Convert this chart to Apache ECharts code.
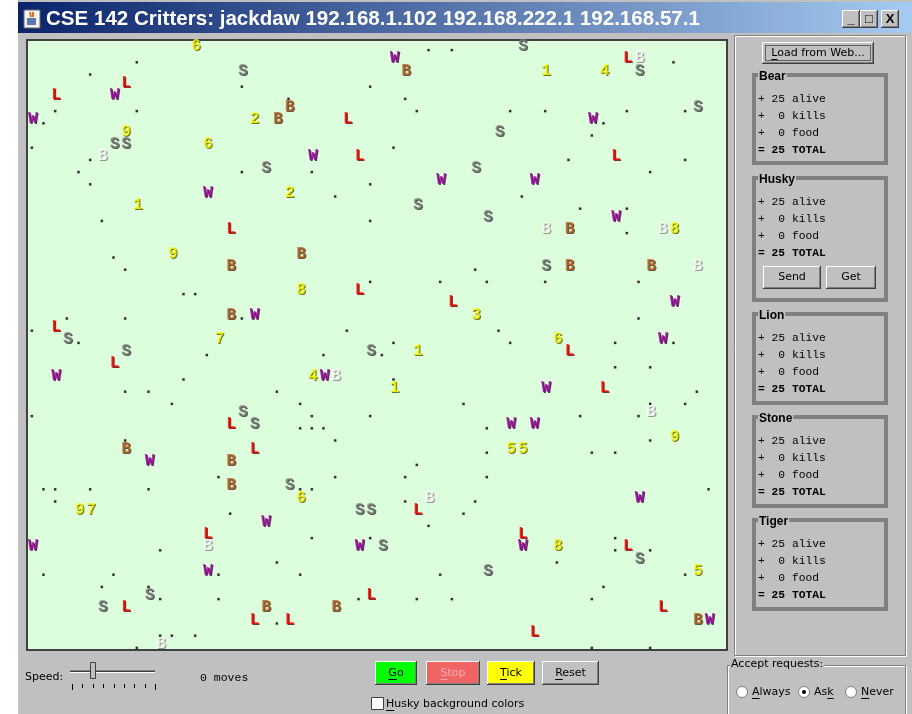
<!DOCTYPE html>
<html><head><meta charset="utf-8">
<script src="https://cdn.jsdelivr.net/npm/echarts@6/dist/echarts.min.js"></script>
<style>html,body{margin:0;padding:0;background:#fff;}#c{width:912px;height:714px;}</style>
</head><body><div id="c"></div><script>
// ---------------- data ----------------
const titleText = 'CSE 142 Critters: jackdaw 192.168.1.102 192.168.222.1 192.168.57.1';
const worldCols = 60;
const worldRows = 50;
const speciesNames = ['Bear', 'Husky', 'Lion', 'Stone', 'Tiger'];
const aliveCounts = [25, 25, 25, 25, 25];
const killCounts = [0, 0, 0, 0, 0];
const foodCounts = [0, 0, 0, 0, 0];
const totalCounts = [25, 25, 25, 25, 25];
const moveCount = 0;
const radioOptions = ['Always', 'Ask', 'Never'];
const radioMnemonic = [0, 2, 0];
const selectedRadio = 1;

const lionCells = [[8,3],[2,4],[27,6],[28,9],[51,1],[50,9],[17,15],[28,20],[2,23],[36,21],[7,26],[17,31],[19,33],[46,25],[49,28],[15,40],[29,45],[8,46],[19,47],[22,47],[33,38],[42,40],[51,41],[54,46],[43,48]];
const huskyCells = [[7,4],[0,6],[24,9],[31,1],[48,6],[35,11],[43,11],[15,12],[19,22],[50,14],[55,21],[54,24],[2,27],[25,27],[10,34],[44,28],[41,31],[43,31],[20,39],[0,41],[28,41],[15,43],[52,37],[42,41],[58,47]];
const bearCells = [[22,5],[21,6],[32,2],[23,17],[17,18],[17,22],[46,15],[46,18],[53,18],[8,33],[17,34],[17,36],[20,46],[26,46],[57,47],[6,9],[52,1],[44,15],[54,15],[57,18],[26,27],[53,30],[15,41],[11,49],[34,37]];
const bearPolar = [0,0,0,0,0,0,0,0,0,0,0,0,0,0,0,1,1,1,1,1,1,1,1,1,1];
const stoneCells = [[18,2],[7,8],[8,8],[20,10],[42,0],[52,2],[57,5],[40,7],[38,10],[33,13],[39,14],[44,18],[3,24],[8,25],[29,25],[18,30],[19,31],[22,36],[28,38],[29,38],[10,45],[6,46],[30,41],[52,42],[39,43]];
const tigerCells = [[14,0],[8,7],[19,6],[15,8],[44,2],[49,2],[22,12],[9,13],[12,17],[23,20],[55,15],[38,22],[16,24],[24,27],[45,24],[33,25],[31,28],[55,32],[41,33],[42,33],[23,37],[4,38],[5,38],[45,41],[57,43]];
const tigerDigits = ['6','9','2','6','1','4','2','1','9','8','8','3','7','4','6','1','1','9','5','5','6','9','7','8','5'];
const foodCells = [[34,0],[36,0],[9,1],[55,1],[5,2],[18,3],[29,3],[22,4],[32,4],
 [2,5],[9,5],[33,5],[41,5],[44,5],[51,5],[56,5],[1,6],[49,6],[48,7],[0,8],[31,8],
 [5,9],[46,9],[56,9],[4,10],[18,10],[24,10],[53,10],[5,11],[29,11],[26,12],[42,12],
 [47,13],[51,13],[6,14],[29,14],[51,15],[7,17],[8,18],[38,18],
 [29,19],[35,19],[39,19],[44,19],[52,19],[13,20],[14,20],
 [18,22],[3,22],[8,22],[52,22],[0,23],[27,23],[40,23],
 [4,24],[31,24],[41,24],[50,24],[55,24],[15,25],[25,25],[30,25],[50,26],[53,26],
 [13,27],[31,27],[8,28],[10,28],[21,28],[57,28],[12,29],[23,29],[37,29],[53,29],[56,29],
 [0,30],[24,30],[29,30],[47,30],[52,30],[23,31],[24,31],[25,31],[39,31],
 [8,32],[26,32],[53,32],[39,33],[48,33],[50,33],[33,34],[16,35],[26,35],[32,35],[39,35],
 [1,36],[2,36],[5,36],[10,36],[23,36],[24,36],[58,36],[2,37],[32,37],[38,37],
 [17,38],[37,38],[34,39],[24,40],[29,40],[50,40],[11,41],[50,41],[53,41],[21,42],[45,42],
 [1,43],[7,43],[16,43],[23,43],[35,43],[56,43],[6,44],[10,44],[49,44],
 [11,45],[16,45],[28,45],[33,45],[36,45],[48,45],[21,47],[11,48],[12,48],[14,48],
 [9,49],[48,49],[53,49]];

// ---------------- styles ----------------
const GUI_GRAY = '#c0c0c0';
const critterFont = 'Liberation Mono';
const guiFont = 'DejaVu Sans';

const mctx = document.createElement('canvas').getContext('2d');
function tw(t, font) { mctx.font = font; return mctx.measureText(t).width; }

const G = [];
function rect(x, y, w, h, style, z) { G.push({type:'rect', shape:{x, y, width:w, height:h}, style, z: z || 0, silent:true}); }
function line(x1, y1, x2, y2, stroke, lw, z) { G.push({type:'line', shape:{x1, y1, x2, y2}, style:{stroke, lineWidth: lw || 1}, z: z || 0, silent:true}); }
function text(x, y, t, font, fill, align, extra, z) {
  G.push({type:'text', x, y, style:Object.assign({text:t, font, fill, align: align || 'left', verticalAlign:'middle'}, extra || {}), z: z || 0, silent:true});
}
function underline(x, y, label, idx, font, color, align, z) {
  const full = tw(label, font);
  const start = align === 'center' ? x - full / 2 : x;
  const pre = tw(label.slice(0, idx), font);
  const cw = tw(label[idx], font);
  line(start + pre, y + 6.5, start + pre + cw, y + 6.5, color, 1, z);
}
function button(x, y, w, h, fill, label, ul, txtColor, font, z) {
  z = z || 5;
  rect(x, y, w, h, {fill}, z);
  line(x + 0.5, y + 0.5, x + w - 1, y + 0.5, '#ffffff', 1, z + 1);
  line(x + 0.5, y + 0.5, x + 0.5, y + h - 1, '#ffffff', 1, z + 1);
  line(x, y + h - 0.5, x + w, y + h - 0.5, '#404040', 1, z + 1);
  line(x + w - 0.5, y, x + w - 0.5, y + h, '#404040', 1, z + 1);
  line(x + 1, y + h - 1.5, x + w - 1, y + h - 1.5, '#808080', 1, z + 1);
  line(x + w - 1.5, y + 1, x + w - 1.5, y + h - 1, '#808080', 1, z + 1);
  const cx = x + w / 2, cy = y + h / 2;
  text(cx, cy, label, font, txtColor, 'center', null, z + 2);
  if (ul != null) underline(cx, cy, label, ul, font, txtColor, 'center', z + 2);
}

// window body
rect(18, 0, 894, 714, {fill: GUI_GRAY}, -20);
// title bar
rect(18, 2, 894, 31, {fill: new echarts.graphic.LinearGradient(0, 0, 1, 0, [{offset:0, color:'#0a246a'}, {offset:1, color:'#a6caf0'}])}, -10);
const titleFontBase = 'bold 100px "Liberation Sans"';
const titleSize = 100 * 654 / tw(titleText, titleFontBase);
text(46, 19, titleText, 'bold ' + titleSize.toFixed(2) + 'px "Liberation Sans"', '#ffffff', 'left', null, 2);
// icon
rect(24, 10, 16, 18, {fill:'#f4f4f4', stroke:'#6a6a6a', lineWidth:1}, 2);
rect(27, 18, 9, 7, {fill:'#5a78b4'}, 3);
line(30, 12, 31, 17, '#e07020', 2, 3);
line(33, 12, 33, 17, '#e07020', 2, 3);
// window buttons
[[842, '_'], [860, '\u25A1'], [881, 'X']].forEach(function (b) {
  button(b[0], 10, 18, 18, GUI_GRAY, b[1], null, '#000000', 'bold 13px "Liberation Sans"', 3);
});

// right panel frame
rect(734.5, 35.5, 171, 620, {fill:'none', stroke:'#808080', lineWidth:1}, -5);
rect(735.5, 36.5, 171, 620, {fill:'none', stroke:'#ffffff', lineWidth:1}, -6);
// Load from web button
button(762, 42, 112, 22, GUI_GRAY, 'Load from Web...', 0, '#000000', '11px "' + guiFont + '"', 5);
rect(765.5, 45.5, 105, 15, {fill:'none', stroke:'#000000', lineWidth:1, lineDash:[1,1]}, 8);

// species boxes
const boxTops = [73, 176, 312, 415, 518];
const boxBottoms = [165, 302, 405, 508, 611];
const monoFont = '11.3px "Liberation Mono"';
const monoBold = 'bold 11.3px "Liberation Mono"';
function pad(n) { const s = String(n); return s.length < 2 ? ' ' + s : s; }
speciesNames.forEach(function (nm, i) {
  const t = boxTops[i], b = boxBottoms[i];
  rect(754, t + 2, 132, b - t - 4, {fill:'none', stroke:'#808080', lineWidth:4}, 1);
  text(758, t + 3.5, nm, 'bold 12px "Liberation Sans"', '#000000', 'left', {backgroundColor: GUI_GRAY, padding:[0, 1, 0, 1]}, 3);
  const y0 = t + 26;
  text(758, y0, '+ ' + pad(aliveCounts[i]) + ' alive', monoFont, '#000000', 'left', null, 3);
  text(758, y0 + 17, '+ ' + pad(killCounts[i]) + ' kills', monoFont, '#000000', 'left', null, 3);
  text(758, y0 + 34, '+ ' + pad(foodCounts[i]) + ' food', monoFont, '#000000', 'left', null, 3);
  text(758, y0 + 51, '= ' + pad(totalCounts[i]) + ' TOTAL', monoBold, '#000000', 'left', null, 3);
});
button(763, 266, 58, 23, GUI_GRAY, 'Send', null, '#000000', '11px "' + guiFont + '"', 5);
button(826, 266, 50, 23, GUI_GRAY, 'Get', null, '#000000', '11px "' + guiFont + '"', 5);

// bottom controls
text(25, 677, 'Speed:', '11px "' + guiFont + '"', '#000000', 'left', null, 3);
line(70, 670.5, 155, 670.5, '#808080', 1, 3);
line(70, 671.5, 155, 671.5, '#404040', 1, 3);
line(70, 672.5, 155, 672.5, '#ffffff', 1, 3);
rect(90.5, 662.5, 5, 16, {fill: GUI_GRAY, stroke:'#404040', lineWidth:1}, 4);
for (let k = 0; k < 9; k++) {
  const tx = Math.round(72 + k * 10.4) + 0.5;
  const len = (k === 0 || k === 8) ? 6 : 4;
  line(tx, 684, tx, 684 + len, '#000000', 1, 3);
}
text(200, 678, moveCount + ' moves', '11.5px "Liberation Mono"', '#000000', 'left', null, 3);
button(375, 661, 42, 24, '#00ff00', 'Go', 0, '#000000', '11px "' + guiFont + '"', 5);
button(426, 661, 54, 24, '#f06464', 'Stop', 0, '#f8b0b0', '11px "' + guiFont + '"', 5);
button(487, 661, 48, 24, '#ffff00', 'Tick', 0, '#000000', '11px "' + guiFont + '"', 5);
button(542, 661, 57, 24, GUI_GRAY, 'Reset', 0, '#000000', '11px "' + guiFont + '"', 5);
rect(371.5, 697.5, 12, 12, {fill:'#ffffff', stroke:'#404040', lineWidth:1}, 4);
text(386, 704, 'Husky background colors', '11px "' + guiFont + '"', '#000000', 'left', null, 4);
underline(386, 704, 'Husky background colors', 0, '11px "' + guiFont + '"', '#000000', 'left', 4);
// accept requests
rect(727.5, 665.5, 178, 60, {fill:'none', stroke:'#808080', lineWidth:1}, 3);
rect(728.5, 666.5, 178, 60, {fill:'none', stroke:'#ffffff', lineWidth:1}, 2);
text(730, 664, 'Accept requests:', '11px "' + guiFont + '"', '#000000', 'left', {backgroundColor: GUI_GRAY, padding:[0, 1, 0, 1]}, 4);
const radioX = [742, 804, 851];
radioOptions.forEach(function (o, i) {
  G.push({type:'circle', shape:{cx: radioX[i], cy: 692, r: 5.5}, style:{fill:'#ffffff', stroke:'#808080', lineWidth:1}, z:4, silent:true});
  if (i === selectedRadio) G.push({type:'circle', shape:{cx: radioX[i], cy: 692, r: 2}, style:{fill:'#000000'}, z:5, silent:true});
  text(radioX[i] + 10, 692, o, '11px "' + guiFont + '"', '#000000', 'left', null, 4);
  underline(radioX[i] + 10, 692, o, radioMnemonic[i], '11px "' + guiFont + '"', '#000000', 'left', 4);
});

// ---------------- series ----------------
function glyphSeries(name, cells, chars, colors, shadow) {
  const base = {
    type:'scatter', silent:true, animation:false, symbolSize:1,
    itemStyle:{color:'rgba(0,0,0,0)'}
  };
  const mk = function (isShadow) {
    return Object.assign({}, base, {
      name: name + (isShadow ? '-shadow' : ''),
      data: cells.map(function (c, i) {
        return {value:[c[0] + 0.5, c[1] + 0.5], label:{color: isShadow ? shadow[i] : colors[i]}};
      }),
      label:{show:true, position:'inside', formatter: function (p) { return chars[p.dataIndex]; },
        fontFamily: critterFont, fontWeight:'bold', fontSize:16,
        offset: isShadow ? [1, 1] : [0, 0]},
      z: isShadow ? 5 : 6
    });
  };
  return [mk(true), mk(false)];
}
function fill(n, v) { const a = []; for (let i = 0; i < n; i++) a.push(v); return a; }

const series = [
  {type:'scatter', name:'food', silent:true, animation:false, symbol:'rect', symbolSize:[2.5,2.5], symbolOffset:[-1, 4],
   itemStyle:{color:'#000000'}, data: foodCells.map(function (c) { return [c[0] + 0.5, c[1] + 0.5]; }), z:4}
].concat(
  glyphSeries('Bear', bearCells, fill(bearCells.length, 'B'),
    bearPolar.map(function (p) { return p ? '#ffffff' : '#b5652b'; }),
    bearPolar.map(function (p) { return p ? '#808080' : '#4a2810'; })),
  glyphSeries('Husky', huskyCells, fill(huskyCells.length, 'W'), fill(huskyCells.length, '#a000a0'), fill(huskyCells.length, '#400040')),
  glyphSeries('Lion', lionCells, fill(lionCells.length, 'L'), fill(lionCells.length, '#ff0000'), fill(lionCells.length, '#600000')),
  glyphSeries('Stone', stoneCells, fill(stoneCells.length, 'S'), fill(stoneCells.length, '#808080'), fill(stoneCells.length, '#303030')),
  glyphSeries('Tiger', tigerCells, tigerDigits, fill(tigerCells.length, '#ffff00'), fill(tigerCells.length, '#505000'))
);

const chart = echarts.init(document.getElementById('c'), null, {renderer:'canvas'});
chart.setOption({
  animation:false,
  backgroundColor:'#ffffff',
  grid:{left:27, top:40, width:700, height:610, show:true, backgroundColor:'#dcfedc', borderColor:'#404040', borderWidth:2, z:0},
  xAxis:{type:'value', min:0, max:worldCols, show:false},
  yAxis:{type:'value', min:0, max:worldRows, inverse:true, show:false},
  graphic:{elements:G},
  series
});
</script></body></html>
